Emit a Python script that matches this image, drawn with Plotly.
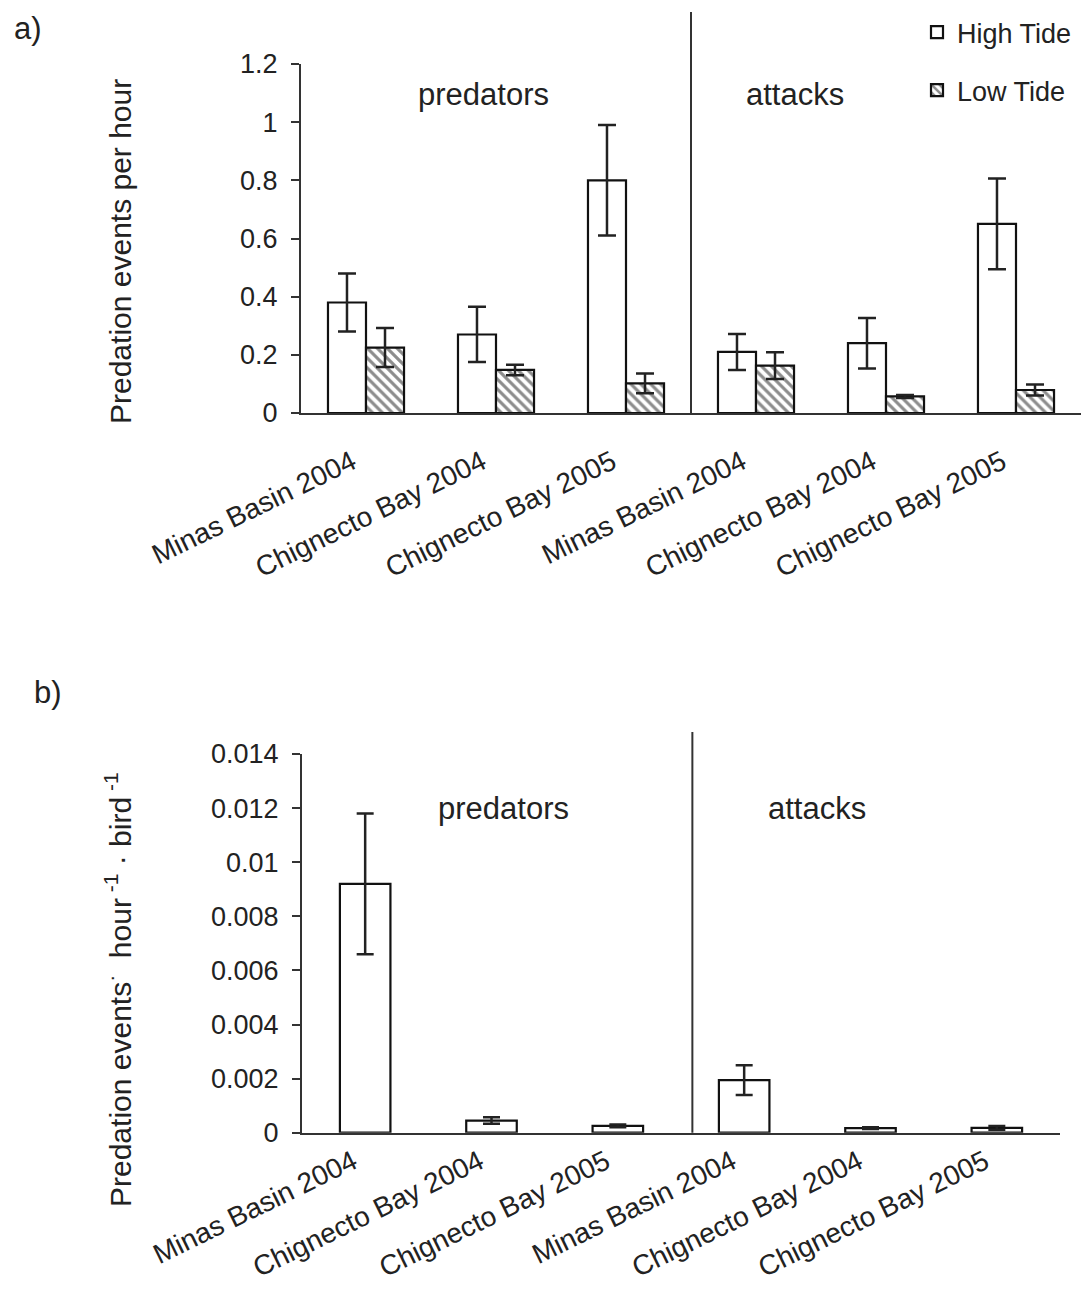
import plotly.graph_objects as go

# ---- data ----
sites = ["Minas Basin 2004", "Chignecto Bay 2004", "Chignecto Bay 2005",
         "Minas Basin 2004", "Chignecto Bay 2004", "Chignecto Bay 2005"]
xpos = [0, 1, 2, 3, 4, 5]

a_high = [0.38, 0.27, 0.80, 0.21, 0.24, 0.65]
a_high_err = [0.10, 0.095, 0.19, 0.062, 0.087, 0.156]
a_low = [0.225, 0.148, 0.102, 0.163, 0.057, 0.079]
a_low_err = [0.067, 0.018, 0.034, 0.046, 0.005, 0.019]

b_high = [0.0092, 0.00045, 0.00025, 0.00194, 0.00017, 0.00018]
b_high_err = [0.0026, 0.00012, 0.00005, 0.00055, 0.00003, 0.00007]

a_ticks = [0, 0.2, 0.4, 0.6, 0.8, 1.0, 1.2]
a_ticktext = ["0", "0.2", "0.4", "0.6", "0.8", "1", "1.2"]
b_ticks = [0, 0.002, 0.004, 0.006, 0.008, 0.01, 0.012, 0.014]
b_ticktext = ["0", "0.002", "0.004", "0.006", "0.008", "0.01", "0.012", "0.014"]

W, H = 1081, 1292
FONT = "Liberation Sans, Arial, sans-serif"
TXT = "#222222"
LINE = "#333333"

def px_x(p):
    return p / W

def px_y(p):
    return 1 - p / H

fig = go.Figure()

fig.add_trace(go.Bar(
    x=xpos, y=a_high, name="High Tide", xaxis="x", yaxis="y",
    marker=dict(color="white", line=dict(color="#111111", width=2.2)),
    error_y=dict(type="data", array=a_high_err, color="#222222", thickness=2.5, width=9),
    legendgroup="h",
))
fig.add_trace(go.Bar(
    x=xpos, y=a_low, name="Low Tide", xaxis="x", yaxis="y",
    marker=dict(color="white", line=dict(color="#111111", width=2.2),
                pattern=dict(shape="\\", fgcolor="#1a1a1a", bgcolor="white",
                             size=7, solidity=0.45)),
    error_y=dict(type="data", array=a_low_err, color="#222222", thickness=2.5, width=9),
    legendgroup="l",
))
fig.add_trace(go.Bar(
    x=xpos, y=b_high, name="High Tide", xaxis="x2", yaxis="y2", width=0.4,
    marker=dict(color="white", line=dict(color="#111111", width=2.2)),
    error_y=dict(type="data", array=b_high_err, color="#222222", thickness=2.5, width=8.5),
    showlegend=False,
))

axis_common = dict(showgrid=False, zeroline=False, showline=True, linecolor=LINE,
                   linewidth=2, automargin=False)
ytick_font = dict(family=FONT, size=27, color=TXT)
xtick_font = dict(family=FONT, size=28, color=TXT)

fig.update_layout(
    width=W, height=H, autosize=False,
    margin=dict(l=0, r=0, t=0, b=0),
    paper_bgcolor="white", plot_bgcolor="white",
    barmode="group", bargap=0.415, bargroupgap=0,
    font=dict(family=FONT, size=27, color=TXT),
    xaxis=dict(domain=[px_x(301), 1.0], range=[-0.5, 5.5], anchor="y",
               tickmode="array", tickvals=xpos, ticktext=sites, tickangle=-26,
               ticks="", ticklabelstandoff=20, ticklabelshift=-14,
               tickfont=xtick_font, **axis_common),
    yaxis=dict(domain=[px_y(413), px_y(64)], range=[0, 1.2], anchor="x",
               tickmode="array", tickvals=a_ticks, ticktext=a_ticktext,
               ticks="outside", ticklen=8, tickwidth=2, tickcolor=LINE,
               ticklabelstandoff=8, tickfont=ytick_font, **axis_common),
    xaxis2=dict(domain=[px_x(302), px_x(1060)], range=[-0.5, 5.5], anchor="y2",
                tickmode="array", tickvals=xpos, ticktext=sites, tickangle=-26,
                ticks="", ticklabelstandoff=0, ticklabelshift=-12,
                tickfont=xtick_font, **axis_common),
    yaxis2=dict(domain=[px_y(1132.7), px_y(754)], range=[0, 0.014], anchor="x2",
                tickmode="array", tickvals=b_ticks, ticktext=b_ticktext,
                ticks="outside", ticklen=8, tickwidth=2, tickcolor=LINE,
                ticklabelstandoff=8, tickfont=ytick_font, **axis_common),
    legend=dict(x=px_x(917), y=px_y(8), xanchor="left", yanchor="top",
                font=dict(family=FONT, size=27, color=TXT),
                bgcolor="rgba(0,0,0,0)", tracegroupgap=20, traceorder="grouped"),
    showlegend=True,
)

# separator lines
fig.add_shape(type="line", xref="x", yref="y domain", x0=2.5, x1=2.5, y0=0, y1=1.149,
              line=dict(color=LINE, width=2))
fig.add_shape(type="line", xref="x2", yref="y2 domain", x0=2.59, x1=2.59, y0=0, y1=1.058,
              line=dict(color=LINE, width=2))

def ann(text, x, y, size=31, angle=0):
    fig.add_annotation(text=text, x=px_x(x), y=px_y(y), xref="paper", yref="paper",
                       showarrow=False, textangle=angle, xanchor="center", yanchor="middle",
                       font=dict(family=FONT, size=size, color=TXT))

NB = "\u00a0"
ann("predators", 483, 95)
ann("attacks", 795, 95)
ann("predators", 503, 808)
ann("attacks", 817, 808)
ann("a)", 28, 28, size=31)
ann("b)", 48, 692, size=31)
ann("Predation events per hour", 120, 251, size=30, angle=-90)
ann("Predation events<sup>·</sup>" + NB + NB + "hour<sup>" + NB + "-1</sup>" + NB + "·"
    + NB + "bird<sup>" + NB + "-1</sup>", 118, 990, size=30, angle=-90)

fig.write_html("out.html")
